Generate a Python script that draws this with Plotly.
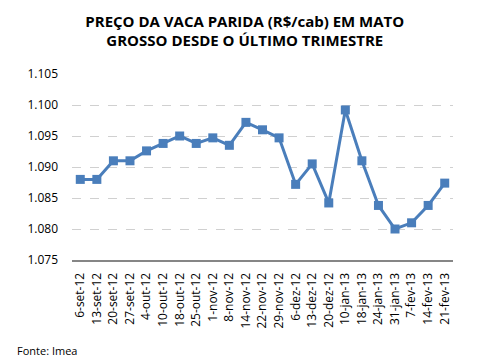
import plotly.graph_objects as go

dates = ["6-set-12", "13-set-12", "20-set-12", "27-set-12", "4-out-12", "10-out-12",
         "18-out-12", "25-out-12", "1-nov-12", "8-nov-12", "14-nov-12", "22-nov-12",
         "29-nov-12", "6-dez-12", "13-dez-12", "20-dez-12", "10-jan-13", "18-jan-13",
         "24-jan-13", "31-jan-13", "7-fev-13", "14-fev-13", "21-fev-13"]
prices = [1088.0, 1088.0, 1091.0, 1091.0, 1092.6, 1093.8, 1095.0, 1093.8, 1094.7,
          1093.5, 1097.2, 1096.0, 1094.7, 1087.2, 1090.5, 1084.2, 1099.2, 1091.0,
          1083.8, 1080.0, 1081.0, 1083.8, 1087.4]
y_ticks = [1075, 1080, 1085, 1090, 1095, 1100, 1105]

font_family = "Open Sans, Liberation Sans, sans-serif"

fig = go.Figure()
fig.add_trace(go.Scatter(
    x=dates, y=prices, mode="lines+markers",
    line=dict(color="#4a7ebb", width=3),
    marker=dict(symbol="square", size=9, color="#4a7ebb"),
    hoverinfo="x+y", showlegend=False,
))

fig.update_layout(
    width=480, height=357, autosize=False,
    margin=dict(l=72, r=27, t=74, b=97),
    paper_bgcolor="white", plot_bgcolor="white",
    separators=",.",
    font=dict(family=font_family, size=12, color="black"),
    title=dict(
        text="<b>PREÇO DA VACA PARIDA (R$/cab) EM MATO<br>GROSSO DESDE O ÚLTIMO TRIMESTRE</b>",
        x=0.51, xanchor="center", y=0.925, yanchor="top",
        font=dict(family=font_family, size=15, color="black"),
    ),
    xaxis=dict(
        type="category", range=[-0.5, len(dates) - 0.5],
        tickangle=-90, showgrid=False, zeroline=False,
        showline=True, linecolor="#868686", linewidth=2, automargin=False,
        ticks="", ticklabelstandoff=6, tickfont=dict(size=12, color="black"),
    ),
    yaxis=dict(
        range=[1075, 1105], tickvals=y_ticks, tickformat=",.0f",
        showgrid=True, gridcolor="#d0d0d0", griddash="dash", gridwidth=1,
        zeroline=False, showline=False, ticks="", ticklabelstandoff=13,
        automargin=False, tickfont=dict(size=12, color="black"),
    ),
    annotations=[dict(
        text="Fonte: Imea", xref="paper", yref="paper", x=-0.15, y=-0.435,
        xanchor="left", yanchor="top", showarrow=False,
        font=dict(family=font_family, size=11, color="black"),
    )],
)

fig.write_html(
    "out.html",
    config={"responsive": False, "displayModeBar": False},
    post_script="document.body.style.margin='0';document.body.style.overflow='hidden';",
)
